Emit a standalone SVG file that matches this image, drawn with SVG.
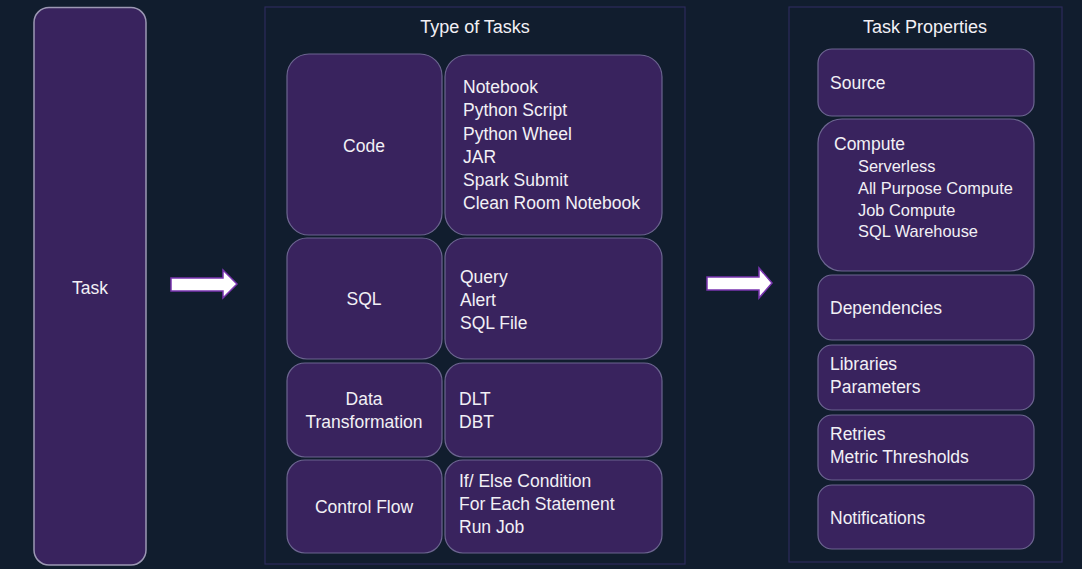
<svg xmlns="http://www.w3.org/2000/svg" width="1082" height="569" viewBox="0 0 1082 569">
<style>
.bg{fill:#111d2e}
.panel{fill:none;stroke:#2d2b5c;stroke-width:1.2}
.box{fill:#39235e;stroke:#6c6590;stroke-width:1.2}
.task{fill:#39235e;stroke:#9c98b4;stroke-width:1.5}
text{font-family:"Liberation Sans",Arial,sans-serif;fill:#f2f0f5;font-size:17.5px}
.title{font-size:18px;text-anchor:middle}
.c{text-anchor:middle}
.sub{font-size:16.4px}
.arrow{fill:#ffffff;stroke:#7a35b0;stroke-width:1.5}
</style>
<rect class="bg" x="0" y="0" width="1082" height="569"/>

<g id="task">
<rect class="task" x="34" y="7.5" width="112" height="557.5" rx="15"/>
<text class="c" x="90" y="294">Task</text>
</g>

<g id="connectors">
<path class="arrow" d="M171,278 H223 V270 L237,284 L223,298 V291 H171 Z"/>
<path class="arrow" d="M707,277 H759 V268 L772,283 L759,298 V290 H707 Z"/>
</g>

<g id="type-of-tasks">
<rect class="panel" x="265" y="7" width="420" height="557"/>
<text class="title" x="475" y="33">Type of Tasks</text>
</g>

<g id="code">
<rect class="box" x="287" y="54" width="155" height="181" rx="22"/>
<text class="c" x="364" y="152">Code</text>
</g>
<g id="code-items">
<rect class="box" x="445" y="55" width="217" height="180" rx="22"/>
<text x="463" y="93">Notebook</text>
<text x="463" y="116">Python Script</text>
<text x="463" y="140">Python Wheel</text>
<text x="463" y="163">JAR</text>
<text x="463" y="186">Spark Submit</text>
<text x="463" y="209">Clean Room Notebook</text>
</g>

<g id="sql">
<rect class="box" x="287" y="238" width="155" height="121" rx="20"/>
<text class="c" x="364" y="305">SQL</text>
</g>
<g id="sql-items">
<rect class="box" x="445" y="238" width="217" height="121" rx="20"/>
<text x="460" y="283">Query</text>
<text x="460" y="306">Alert</text>
<text x="460" y="329">SQL File</text>
</g>

<g id="data-transformation">
<rect class="box" x="287" y="363" width="155" height="94" rx="18"/>
<text class="c" x="364" y="405">Data</text>
<text class="c" x="364" y="428">Transformation</text>
</g>
<g id="dt-items">
<rect class="box" x="445" y="363" width="217" height="94" rx="18"/>
<text x="459" y="405">DLT</text>
<text x="459" y="428">DBT</text>
</g>

<g id="control-flow">
<rect class="box" x="287" y="460" width="155" height="93" rx="18"/>
<text class="c" x="364" y="513">Control Flow</text>
</g>
<g id="cf-items">
<rect class="box" x="445" y="460" width="217" height="93" rx="18"/>
<text x="459" y="487">If/ Else Condition</text>
<text x="459" y="510">For Each Statement</text>
<text x="459" y="533">Run Job</text>
</g>

<g id="task-properties">
<rect class="panel" x="789" y="7" width="273" height="555"/>
<text class="title" x="925" y="33">Task Properties</text>
</g>

<g id="source">
<rect class="box" x="818" y="49" width="216" height="67" rx="14"/>
<text x="830" y="89">Source</text>
</g>
<g id="compute">
<rect class="box" x="818" y="119" width="216" height="152" rx="24"/>
<text x="834" y="150">Compute</text>
<text class="sub" x="858" y="172">Serverless</text>
<text class="sub" x="858" y="194">All Purpose Compute</text>
<text class="sub" x="858" y="216">Job Compute</text>
<text class="sub" x="858" y="237">SQL Warehouse</text>
</g>
<g id="dependencies">
<rect class="box" x="818" y="275" width="216" height="65" rx="14"/>
<text x="830" y="314">Dependencies</text>
</g>
<g id="libraries">
<rect class="box" x="818" y="345" width="216" height="65" rx="14"/>
<text x="830" y="370">Libraries</text>
<text x="830" y="393">Parameters</text>
</g>
<g id="retries">
<rect class="box" x="818" y="415" width="216" height="65" rx="14"/>
<text x="830" y="440">Retries</text>
<text x="830" y="463">Metric Thresholds</text>
</g>
<g id="notifications">
<rect class="box" x="818" y="485" width="216" height="64" rx="14"/>
<text x="830" y="524">Notifications</text>
</g>
</svg>
